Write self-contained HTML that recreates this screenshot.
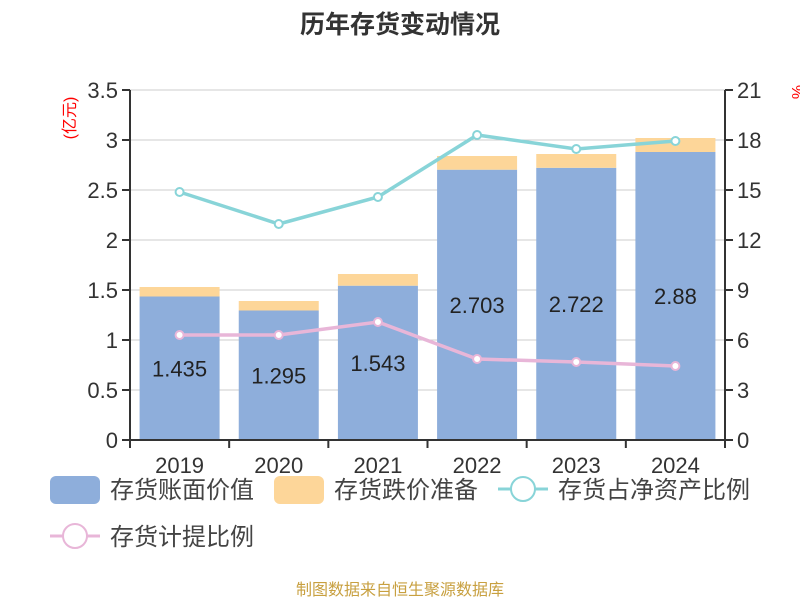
<!DOCTYPE html>
<html><head><meta charset="utf-8"><style>
body{margin:0;background:#fff;}
svg{display:block;font-family:"Liberation Sans","Noto Sans CJK SC",sans-serif;}
</style></head><body>
<svg id="c" width="800" height="600" viewBox="0 0 800 600">
<text x="400" y="33" text-anchor="middle" font-size="25" font-weight="bold" fill="#333">历年存货变动情况</text>
<text transform="translate(75,118) rotate(-90)" text-anchor="middle" font-size="16" fill="#f00">(亿元)</text>
<text transform="translate(803,92) rotate(-90)" text-anchor="middle" font-size="16" fill="#f00">%</text>
<g id="grid"></g><g id="bars"></g><g id="lines"></g><g id="axes"></g>
<g>
<rect x="50" y="476" width="50" height="28" rx="6" fill="#8eaedb"/>
<text x="110" y="498" font-size="24" fill="#444">存货账面价值</text>
<rect x="274" y="476" width="50" height="28" rx="6" fill="#fdd699"/>
<text x="334" y="498" font-size="24" fill="#444">存货跌价准备</text>
<line x1="498" y1="489" x2="548" y2="489" stroke="#88d4d8" stroke-width="3"/>
<circle cx="523" cy="489" r="12" fill="#fff" stroke="#88d4d8" stroke-width="2"/>
<text x="558" y="498" font-size="24" fill="#444">存货占净资产比例</text>
<line x1="50" y1="536" x2="100" y2="536" stroke="#e8b6d8" stroke-width="3"/>
<circle cx="75" cy="536" r="12" fill="#fff" stroke="#e8b6d8" stroke-width="2"/>
<text x="110" y="545" font-size="24" fill="#444">存货计提比例</text>
</g>
<text x="400" y="595" text-anchor="middle" font-size="16" fill="#c8a040">制图数据来自恒生聚源数据库</text>
</svg>
<script>
const years=["2019","2020","2021","2022","2023","2024"];
const bookValue=[1.435,1.295,1.543,2.703,2.722,2.88];
const provision=[0.095,0.095,0.117,0.137,0.138,0.14];
const netAssetRatio=[14.88,12.96,14.58,18.3,17.46,17.94];
const provisionRatio=[6.3,6.3,7.08,4.86,4.68,4.44];
const leftTicks=["0","0.5","1","1.5","2","2.5","3","3.5"];
const rightTicks=["0","3","6","9","12","15","18","21"];
const NS="http://www.w3.org/2000/svg";
const X0=130,X1=725,Y0=440,Y1=90;
const yL=v=>Y0-(v/3.5)*(Y0-Y1);
const yR=v=>Y0-(v/21)*(Y0-Y1);
const bw=(X1-X0)/years.length;
const xc=i=>X0+bw*(i+0.5);
function mk(tag,attrs,parent,txt){const e=document.createElementNS(NS,tag);for(const k in attrs)e.setAttribute(k,attrs[k]);if(txt!=null)e.textContent=txt;document.getElementById(parent).appendChild(e);return e;}
leftTicks.forEach((t,i)=>{const y=yL(+t);
 if(i>0){const g=mk('line',{x1:X0,x2:X1,y1:y,y2:y,stroke:'#ccc','stroke-width':1},'grid');}
 mk('line',{x1:X0-8,x2:X0,y1:y,y2:y,stroke:'#333','stroke-width':2},'axes');
 const l=mk('text',{x:X0-12,y:y+8,'text-anchor':'end','font-size':22,fill:'#333'},'axes',t);
 
 
});
rightTicks.forEach(t=>{const y=yR(+t);
 mk('line',{x1:X1,x2:X1+8,y1:y,y2:y,stroke:'#333','stroke-width':2},'axes');
 const l=mk('text',{x:X1+12,y:y+8,'font-size':22,fill:'#333'},'axes',t);
 
 
});
mk('line',{x1:X0,x2:X0,y1:Y1,y2:Y0,stroke:'#333','stroke-width':2},'axes');
mk('line',{x1:X1,x2:X1,y1:Y1,y2:Y0,stroke:'#333','stroke-width':2},'axes');
mk('line',{x1:X0,x2:X1,y1:Y0,y2:Y0,stroke:'#333','stroke-width':2},'axes');
years.forEach((yr,i)=>{
 const x=xc(i),w=80;
 mk('line',{x1:X0+bw*i,x2:X0+bw*i,y1:Y0,y2:Y0+8,stroke:'#333','stroke-width':2},'axes');
 const b=mk('rect',{x:x-w/2,y:yL(bookValue[i]),width:w,height:Y0-yL(bookValue[i]),fill:'#8eaedb'},'bars');
 
 
 const top=bookValue[i]+provision[i];
 const p=mk('rect',{x:x-w/2,y:yL(top),width:w,height:yL(bookValue[i])-yL(top),fill:'#fdd699'},'bars');
 
 
 const v=mk('text',{x:x,y:yL(bookValue[i]/2)+8,'text-anchor':'middle','font-size':22,fill:'#222'},'bars',String(bookValue[i]));
 
 
 const xl=mk('text',{x:x,y:Y0+33,'text-anchor':'middle','font-size':22,fill:'#333'},'axes',yr);
 
 
});
mk('line',{x1:X1,x2:X1,y1:Y0,y2:Y0+8,stroke:'#333','stroke-width':2},'axes');
function series(arr,color,name){
 const pl=mk('polyline',{points:arr.map((v,i)=>xc(i)+','+yR(v)).join(' '),fill:'none',stroke:color,'stroke-width':3.5},'lines');
 
 
 arr.forEach((v,i)=>{const c=mk('circle',{cx:xc(i),cy:yR(v),r:4,fill:'#fff',stroke:color,'stroke-width':2},'lines');
  
  });
}
series(netAssetRatio,'#88d4d8','net-asset-ratio');
series(provisionRatio,'#e8b6d8','provision-ratio');
</script>
</body></html>
